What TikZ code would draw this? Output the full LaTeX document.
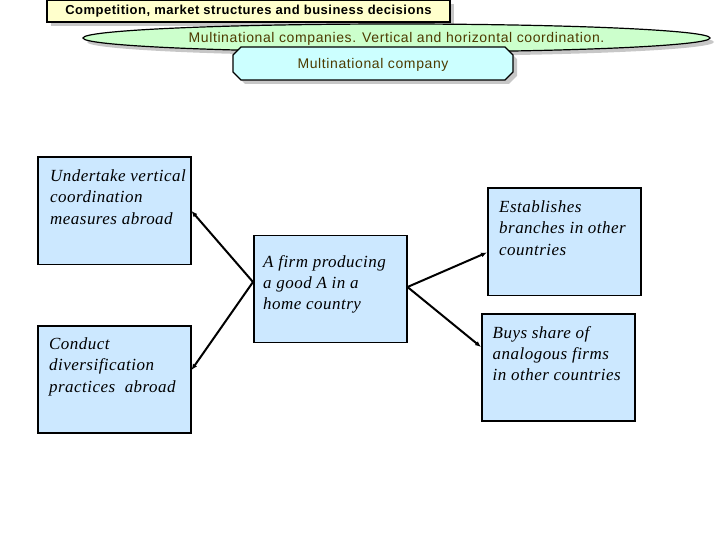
\documentclass[tikz,border=0pt]{standalone}
\usepackage{fontspec}
\setmainfont{Liberation Serif}
\setsansfont{Liberation Sans}
\usetikzlibrary{shapes.geometric,shapes.misc,shadows,arrows.meta}
\definecolor{titlefill}{HTML}{FFFFCC}
\definecolor{ellfill}{HTML}{CCFFCC}
\definecolor{octfill}{HTML}{CCFFFF}
\definecolor{boxfill}{HTML}{CCE8FF}
\definecolor{olive}{HTML}{4D3A00}
\tikzset{
  shad/.style={drop shadow={shadow xshift=4pt,shadow yshift=-4pt,fill=black!22,opacity=1}},
  bluebox/.style={draw,line width=1.5pt,fill=boxfill,minimum width=153pt,minimum height=107pt,inner sep=0pt},
  boxtext/.style={anchor=north west,align=left,font=\itshape\fontsize{17}{21.3}\selectfont\addfontfeature{LetterSpace=2.8},inner sep=0pt},
  headfont/.style={font=\sffamily\fontsize{14}{16}\selectfont\addfontfeature{LetterSpace=4.4},text height=10pt,text depth=0pt},
  conn/.style={line width=2pt,-{Latex[length=6pt,width=5pt]}}
}
\begin{document}
\begin{tikzpicture}[x=1pt,y=-1pt]
\useasboundingbox (0,0) rectangle (720,540);
% title
\node[draw,line width=1.2pt,fill=titlefill,shad,minimum width=403pt,minimum height=22pt,inner sep=0pt,
      font=\sffamily\bfseries\fontsize{13}{15}\selectfont\addfontfeature{LetterSpace=3.8}] (title) at (248.5,11) {Competition, market structures and business decisions};
% ellipse
\node[ellipse,draw,line width=1.2pt,fill=ellfill,shad,minimum width=627pt,minimum height=28pt,inner sep=0pt,
      headfont,text=olive] (ell) at (396.5,38) {Multinational companies. Vertical and horizontal coordination.};
% octagon
\node[chamfered rectangle,chamfered rectangle xsep=7pt,draw,line width=1.2pt,fill=octfill,shad,minimum width=280pt,minimum height=33pt,inner sep=0pt,
      headfont,text=olive] (oct) at (373,63.5) {Multinational company};
% boxes
\node[bluebox,anchor=north west] (lt) at (37,156.5) {};
\node[bluebox,anchor=north west] (lb) at (37,325) {};
\node[bluebox,anchor=north west] (c) at (253,234.5) {};
\node[bluebox,anchor=north west] (rt) at (487,187.5) {};
\node[bluebox,anchor=north west] (rb) at (481,313) {};
\node[boxtext] (ltt) at (50,169.5) {Undertake vertical\\coordination\\measures abroad};
\node[boxtext] (lbt) at (49,337.5) {Conduct\\diversification\\practices\ \ abroad};
\node[boxtext] (ct) at (263,255) {A firm producing\\a good A in a\\home country};
\node[boxtext] (rtt) at (499,200.5) {Establishes\\branches in other\\countries};
\node[boxtext] (rbt) at (492.5,326) {Buys share of\\analogous firms\\in other countries};
% connectors
\coordinate (cl) at (c.west |- 0,282);
\coordinate (cr) at (c.east |- 0,287);
\draw[conn] (cl) -- (lt.east |- 0,211);
\draw[conn] (cl) -- (lb.east |- 0,370);
\draw[conn] (cr) -- (rt.west |- 0,252.5);
\draw[conn] (cr) -- (rb.west |- 0,347);
\end{tikzpicture}
\end{document}
